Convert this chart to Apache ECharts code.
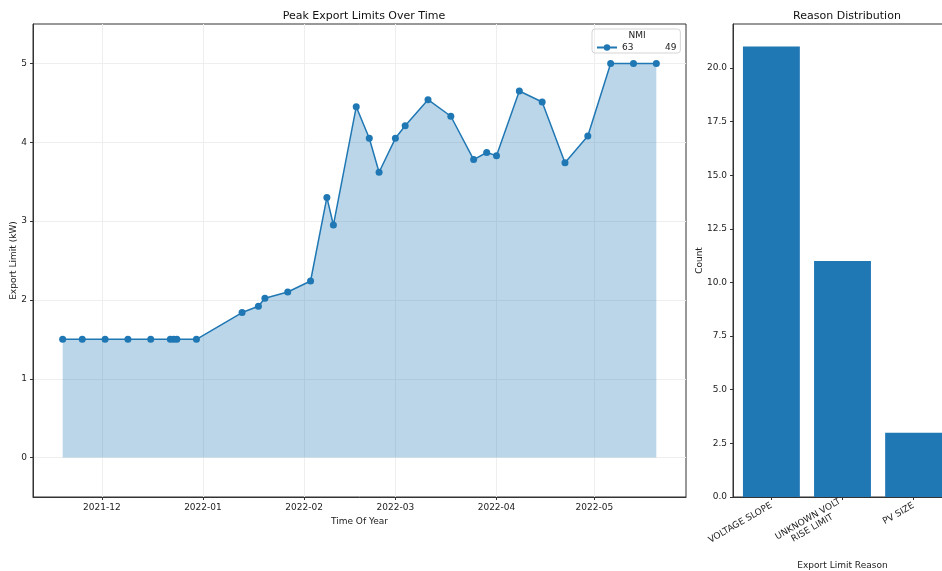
<!DOCTYPE html>
<html>
<head>
<meta charset="utf-8">
<script src="https://cdn.jsdelivr.net/npm/echarts@6/dist/echarts.min.js"></script>
<style>
  html, body { margin: 0; padding: 0; background: #fff; }
  #chart { width: 942px; height: 571px; }
</style>
</head>
<body>
<div id="chart"></div>
<script>
// Peak export limit readings for one NMI
const readingDates = ['2021-11-19','2021-11-25','2021-12-02','2021-12-09','2021-12-16','2021-12-22','2021-12-23','2021-12-24','2021-12-30',
  '2022-01-13','2022-01-18','2022-01-20','2022-01-27','2022-02-03','2022-02-08','2022-02-10','2022-02-17','2022-02-21','2022-02-24',
  '2022-03-01','2022-03-04','2022-03-11','2022-03-18','2022-03-25','2022-03-29','2022-04-01','2022-04-08','2022-04-15','2022-04-22',
  '2022-04-29','2022-05-06','2022-05-13','2022-05-20'];
const exportLimits = [1.5,1.5,1.5,1.5,1.5,1.5,1.5,1.5,1.5,
  1.84,1.92,2.02,2.10,2.24,3.30,2.95,4.45,4.05,3.62,
  4.05,4.21,4.54,4.33,3.78,3.87,3.83,4.65,4.51,3.74,
  4.08,5.0,5.0,5.0];
const seriesName = '63           49';
const monthTicks = ['2021-12-01','2022-01-01','2022-02-01','2022-03-01','2022-04-01','2022-05-01'];
const limitTicks = [0, 1, 2, 3, 4, 5];

// Reason counts
const reasons = ['VOLTAGE SLOPE', 'UNKNOWN VOLT\nRISE LIMIT', 'PV SIZE'];
const reasonCounts = [21, 11, 3];
const countTicks = [0, 2.5, 5, 7.5, 10, 12.5, 15, 17.5, 20];

const toTime = s => { const p = s.split('-').map(Number); return Date.UTC(p[0], p[1] - 1, p[2]); };
const times = readingDates.map(toTime);
const span = times[times.length - 1] - times[0];
const xMin = times[0] - 0.05 * span;
const xMax = times[times.length - 1] + 0.05 * span;
const monthTimes = monthTicks.map(toTime);

// Bars sit at integer positions 0..n-1 with width 0.8 and a 5% margin either side
const barPositions = reasons.map((_, i) => i);
const barHalf = 0.4;
const barSpan = (reasons.length - 1) + 2 * barHalf;
const barMin = -barHalf - 0.05 * barSpan;
const barMax = reasons.length - 1 + barHalf + 0.05 * barSpan;
const countMax = Math.max(...reasonCounts) * 1.05;

const BLUE = '#1f77b4';
const FONT = 'DejaVu Sans';
const txt = { fontFamily: FONT, fontSize: 9, color: '#222' };

// Centre the lines of a multi-line label by padding shorter lines with trailing spaces
const measureCtx = document.createElement('canvas').getContext('2d');
measureCtx.font = '9px "DejaVu Sans"';
function centreLines(label) {
  const lines = label.split('\n');
  if (lines.length < 2) return label;
  const widths = lines.map(l => measureCtx.measureText(l).width);
  const maxW = Math.max(...widths);
  const spaceW = measureCtx.measureText(' ').width;
  return lines.map((l, i) => l + ' '.repeat(Math.round((maxW - widths[i]) / 2 / spaceW))).join('\n');
}

const chart = echarts.init(document.getElementById('chart'), null, { renderer: 'canvas' });
chart.setOption({
  backgroundColor: '#fff',
  animation: false,
  title: [
    { text: 'Peak Export Limits Over Time', left: 359, top: 6, textAlign: 'center',
      textStyle: { fontFamily: FONT, fontSize: 11, fontWeight: 'normal', color: '#111' } },
    { text: 'Reason Distribution', left: 842, top: 6, textAlign: 'center',
      textStyle: { fontFamily: FONT, fontSize: 11, fontWeight: 'normal', color: '#111' } },
    { text: 'NMI', left: 637, top: 31, padding: 0, textAlign: 'center',
      textStyle: { fontFamily: FONT, fontSize: 9, fontWeight: 'normal', color: '#222' } }
  ],
  legend: {
    left: 592, top: 29,
    padding: [14, 4, 1, 4],
    borderColor: '#d5d5d5', borderWidth: 1, borderRadius: 3,
    itemWidth: 20, itemHeight: 8, itemGap: 4,
    textStyle: { fontFamily: FONT, fontSize: 9, color: '#222' },
    data: [seriesName]
  },
  grid: [
    { left: 33, top: 24, right: 256, bottom: 74, show: true, borderColor: '#333', borderWidth: 1,
      containLabel: false, outerBoundsMode: 'none' },
    { left: 733, top: 24, right: -10, bottom: 74, show: true, borderColor: '#333', borderWidth: 1,
      containLabel: false, outerBoundsMode: 'none' }
  ],
  xAxis: [
    {
      gridIndex: 0, type: 'value', min: xMin, max: xMax,
      name: 'Time Of Year', nameLocation: 'middle', nameGap: 19, nameTextStyle: txt,
      axisLine: { show: true, onZero: false, lineStyle: { color: '#333' } },
      axisTick: { show: true, customValues: monthTimes, length: 3, lineStyle: { color: '#333' } },
      axisLabel: Object.assign({}, txt, { customValues: monthTimes, margin: 6,
        formatter: v => { const d = new Date(v); return d.getUTCFullYear() + '-' + String(d.getUTCMonth() + 1).padStart(2, '0'); } }),
      splitLine: { show: true, lineStyle: { color: '#eeeeee', width: 1 } }
    },
    {
      gridIndex: 1, type: 'value', min: barMin, max: barMax,
      name: 'Export Limit Reason', nameLocation: 'middle', nameGap: 64, nameTextStyle: txt,
      axisLine: { show: true, onZero: false, lineStyle: { color: '#333' } },
      axisTick: { show: true, customValues: barPositions, length: 3, lineStyle: { color: '#333' } },
      axisLabel: Object.assign({}, txt, { customValues: barPositions, rotate: 30, margin: 8, lineHeight: 10,
        formatter: v => centreLines(reasons[Math.round(v)]) }),
      splitLine: { show: false }
    }
  ],
  yAxis: [
    {
      gridIndex: 0, type: 'value', min: -0.5, max: 5.5,
      name: 'Export Limit (kW)', nameLocation: 'middle', nameGap: 15, nameMoveOverlap: false, nameTextStyle: txt,
      axisLine: { show: true, onZero: false, lineStyle: { color: '#333' } },
      axisTick: { show: true, customValues: limitTicks, length: 3, lineStyle: { color: '#333' } },
      axisLabel: Object.assign({}, txt, { customValues: limitTicks, margin: 6 }),
      splitLine: { show: true, lineStyle: { color: '#eeeeee', width: 1 } }
    },
    {
      gridIndex: 1, type: 'value', min: 0, max: countMax,
      name: 'Count', nameLocation: 'middle', nameGap: 29, nameMoveOverlap: false, nameTextStyle: txt,
      axisLine: { show: true, onZero: false, lineStyle: { color: '#333' } },
      axisTick: { show: true, customValues: countTicks, length: 3, lineStyle: { color: '#333' } },
      axisLabel: Object.assign({}, txt, { customValues: countTicks, margin: 6, formatter: v => v.toFixed(1) }),
      splitLine: { show: false }
    }
  ],
  series: [
    {
      name: seriesName, type: 'line', xAxisIndex: 0, yAxisIndex: 0,
      data: times.map((t, i) => [t, exportLimits[i]]),
      symbol: 'circle', symbolSize: 7,
      lineStyle: { color: BLUE, width: 1.5 },
      itemStyle: { color: BLUE },
      areaStyle: { color: BLUE, opacity: 0.3, origin: 0 }
    },
    {
      type: 'bar', xAxisIndex: 1, yAxisIndex: 1,
      data: reasonCounts.map((c, i) => [barPositions[i], c]), barWidth: '80%',
      itemStyle: { color: BLUE }
    }
  ]
});
</script>
</body>
</html>
